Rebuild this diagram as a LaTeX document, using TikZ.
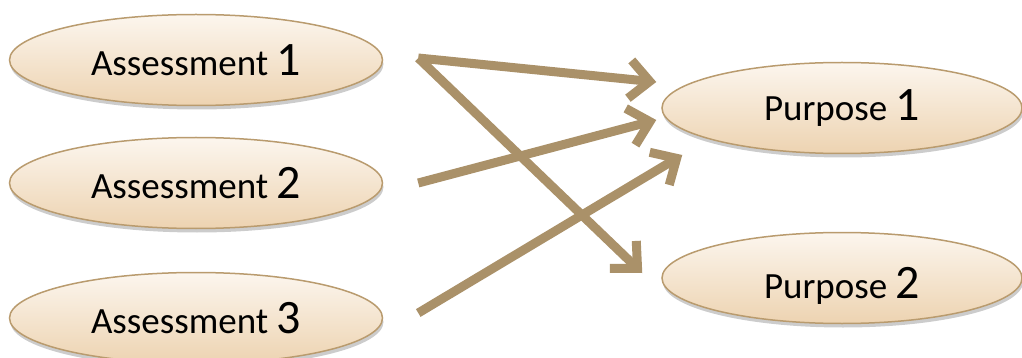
\documentclass[tikz,border=0pt]{standalone}
\usepackage{fontspec}
\setmainfont{Carlito}
\usepackage{tikz}
\usetikzlibrary{calc, shapes.geometric, arrows.meta, shadows}
\definecolor{tanline}{RGB}{170, 145, 105}
\definecolor{tanborder}{RGB}{185, 155, 110}
\definecolor{creamtop}{RGB}{252, 246, 238}
\definecolor{creambottom}{RGB}{237, 211, 177}
\newcommand{\bignum}[1]{{\fontsize{48}{52}\selectfont #1}}

\begin{document}
\begin{tikzpicture}[
    x=1pt, y=-1pt,
    font=\fontsize{37}{44}\selectfont,
    oval/.style={ellipse, draw=tanborder, line width=1.5pt, top color=creamtop, bottom color=creambottom, minimum width=373pt, minimum height=91pt, inner sep=0pt, drop shadow={shadow xshift=1pt, shadow yshift=-4pt, opacity=0.2, fill=black}},
    goal/.style={oval, minimum width=360pt},
    flow/.style={draw=tanline, line width=9pt, -{Straight Barb[length=20pt, width=38pt, line width=9pt]}}
]
    \useasboundingbox (0,0) rectangle (1022,358);
    \foreach \i/\y in {1/60, 2/183, 3/318} {
        \node[oval] (a\i) at (196, \y) {Assessment \bignum{\i}};
    }
    \node[goal] (p1) at (842, 108) {Purpose \bignum{1}};
    \node[goal, text height=46pt] (p2) at (842, 278) {Purpose \bignum{2}};

    \draw[flow] ($(a1.east)+(35,-2)$) -- ($(p1.west)+(-5,-26)$);
    \draw[flow] ($(a1.east)+(35,-2)$) -- ($(p2.west)+(-19,-5)$);
    \draw[flow] ($(a2.east)+(35,0)$) -- ($(p1.west)+(-5,12)$);
    \draw[flow] ($(a3.east)+(35,-5)$) -- ($(p1.west)+(21,47)$);
\end{tikzpicture}
\end{document}
